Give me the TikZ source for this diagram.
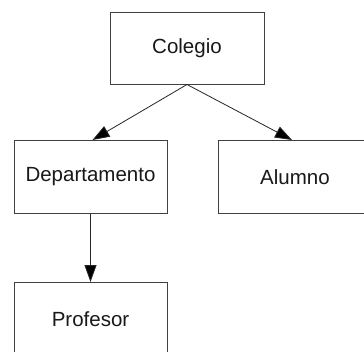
\documentclass[tikz,border=0pt]{standalone}
\usepackage{fontspec}
\setmainfont{Liberation Sans}
\usetikzlibrary{arrows.meta,calc}
\begin{document}
\begin{tikzpicture}[x=1pt,y=1pt,
  box/.style={draw=black!75, line width=1pt, minimum width=153pt, minimum height=73pt,
    inner sep=0pt, font=\fontsize{20.5}{24}\selectfont, text=black!90},
  link/.style={draw=black!85, line width=0.8pt, -{Triangle[length=17pt,width=12pt,fill=black]}}]
\clip (0,0) rectangle (364,-351);
\fill[white] (0,0) rectangle (364,-351);
\node[box, minimum width=154pt, minimum height=72pt] (col) at (187,-48) {Colegio};
\node[box] (dep) at (90.5,-177) {Departamento};
\node[box] (alu) at (295,-177) {Alumno};
\node[box] (pro) at (90.5,-319) {Profesor};
\draw[link] (col.south) -- ($(dep.north)+(2,0)$);
\draw[link] (col.south) -- ($(alu.north)+(-3,0)$);
\draw[link] (dep.south) -- (pro.north);
\end{tikzpicture}
\end{document}
